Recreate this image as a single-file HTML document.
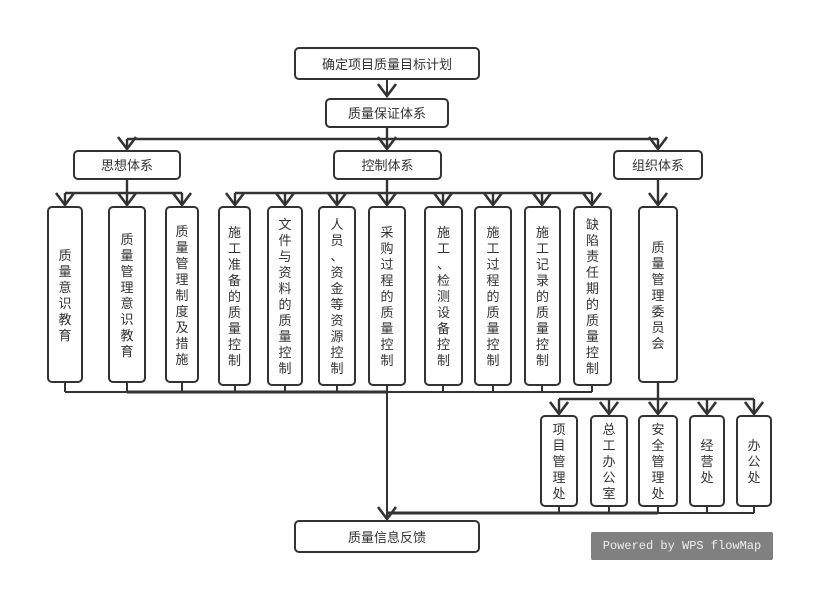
<!DOCTYPE html>
<html><head><meta charset="utf-8">
<style>
html,body{margin:0;padding:0;background:#fff}
#c{position:relative;width:833px;height:614px;overflow:hidden;background:#fff;font:13px/16px "WenQuanYi Zen Hei","Noto Sans CJK SC",sans-serif;color:#333}
svg{position:absolute;left:0;top:0}
.b{position:absolute;box-sizing:border-box;border:2.4px solid #333;border-radius:5px;background:#fff;display:flex;align-items:center;justify-content:center;text-align:center}
#w{position:absolute;left:591px;top:532px;width:182px;height:28px;background:#808080;border-radius:2px;color:#eee;font:12px/28px "Liberation Mono",monospace;text-align:center}
</style></head><body><div id="c">
<svg width="833" height="614" fill="none" stroke="#333" stroke-width="2">
<path d="M387 79V97"/>
<path d="M387 127V149M127 139H658M127 139V149M658 139V149" stroke-width="2.4"/>
<path d="M127 179V205M65 193H182M65 193V205M182 193V205" stroke-width="2.4"/>
<path d="M387 179V205M235 193H592M235 193V205M285 193V205M337 193V205M443 193V205M493 193V205M542 193V205M592 193V205" stroke-width="2.4"/>
<path d="M658 179V205M658 382V414M559 399H754M559 399V414M609 399V414M707 399V414M754 399V414" stroke-width="2.4"/>
<path d="M65 382V392M127 382V392M182 382V392M235 385V392M285 385V392M337 385V392M387 385V519M443 385V392M493 385V392M542 385V392M592 385V392"/>
<path d="M65 392H127"/><path d="M127 392H387" stroke-width="3"/><path d="M387 392H592"/>
<path d="M559 506V513M609 506V513M658 506V513M707 506V513M754 506V513"/>
<path d="M387 513H658" stroke-width="3"/><path d="M658 513H754"/>
<path d="M378 84L387 96L396 84M118 137L127 149L136 137M378 137L387 149L396 137M649 137L658 149L667 137M56 193L65 205L74 193M118 193L127 205L136 193M173 193L182 205L191 193M226 193L235 205L244 193M276 193L285 205L294 193M328 193L337 205L346 193M378 193L387 205L396 193M434 193L443 205L452 193M484 193L493 205L502 193M533 193L542 205L551 193M583 193L592 205L601 193M649 193L658 205L667 193M550 402L559 414L568 402M600 402L609 414L618 402M649 402L658 414L667 402M698 402L707 414L716 402M745 402L754 414L763 402M378 507L387 519L396 507" stroke-width="2.6"/>
</svg>
<div class="b" style="left:294px;top:47px;width:186px;height:33px">确定项目质量目标计划</div>
<div class="b" style="left:325px;top:98px;width:124px;height:30px">质量保证体系</div>
<div class="b" style="left:73px;top:150px;width:108px;height:30px">思想体系</div>
<div class="b" style="left:333px;top:150px;width:109px;height:30px">控制体系</div>
<div class="b" style="left:613px;top:150px;width:90px;height:30px">组织体系</div>
<div class="b" style="left:47px;top:206px;width:36px;height:177px">质<br>量<br>意<br>识<br>教<br>育</div>
<div class="b" style="left:108px;top:206px;width:38px;height:177px">质<br>量<br>管<br>理<br>意<br>识<br>教<br>育</div>
<div class="b" style="left:165px;top:206px;width:34px;height:177px">质<br>量<br>管<br>理<br>制<br>度<br>及<br>措<br>施</div>
<div class="b" style="left:218px;top:206px;width:33px;height:180px">施<br>工<br>准<br>备<br>的<br>质<br>量<br>控<br>制</div>
<div class="b" style="left:267px;top:206px;width:36px;height:180px">文<br>件<br>与<br>资<br>料<br>的<br>质<br>量<br>控<br>制</div>
<div class="b" style="left:318px;top:206px;width:38px;height:180px">人<br>员<br>、<br>资<br>金<br>等<br>资<br>源<br>控<br>制</div>
<div class="b" style="left:368px;top:206px;width:38px;height:180px">采<br>购<br>过<br>程<br>的<br>质<br>量<br>控<br>制</div>
<div class="b" style="left:424px;top:206px;width:39px;height:180px">施<br>工<br>、<br>检<br>测<br>设<br>备<br>控<br>制</div>
<div class="b" style="left:474px;top:206px;width:38px;height:180px">施<br>工<br>过<br>程<br>的<br>质<br>量<br>控<br>制</div>
<div class="b" style="left:524px;top:206px;width:37px;height:180px">施<br>工<br>记<br>录<br>的<br>质<br>量<br>控<br>制</div>
<div class="b" style="left:573px;top:206px;width:39px;height:180px">缺<br>陷<br>责<br>任<br>期<br>的<br>质<br>量<br>控<br>制</div>
<div class="b" style="left:638px;top:206px;width:40px;height:177px">质<br>量<br>管<br>理<br>委<br>员<br>会</div>
<div class="b" style="left:540px;top:415px;width:38px;height:92px">项<br>目<br>管<br>理<br>处</div>
<div class="b" style="left:590px;top:415px;width:38px;height:92px">总<br>工<br>办<br>公<br>室</div>
<div class="b" style="left:638px;top:415px;width:40px;height:92px">安<br>全<br>管<br>理<br>处</div>
<div class="b" style="left:689px;top:415px;width:36px;height:92px">经<br>营<br>处</div>
<div class="b" style="left:736px;top:415px;width:36px;height:92px">办<br>公<br>处</div>
<div class="b" style="left:294px;top:520px;width:186px;height:33px">质量信息反馈</div>
<div id="w">Powered by WPS flowMap</div>
</div></body></html>
